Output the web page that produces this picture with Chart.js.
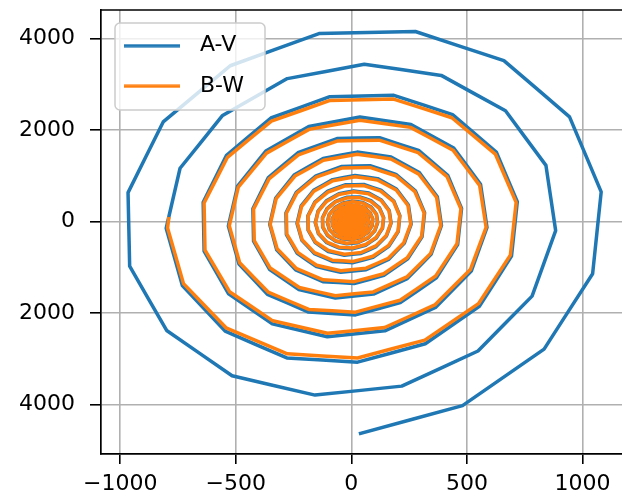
<!DOCTYPE html>
<html>
<head>
<meta charset="utf-8">
<script src="https://cdn.jsdelivr.net/npm/chart.js@4.4.1/dist/chart.umd.min.js"></script>
<style>
html,body{margin:0;padding:0;background:#ffffff;overflow:hidden;}
#wrap{width:640px;height:499px;}
</style>
</head>
<body>
<div id="wrap"><canvas id="c" width="640" height="499"></canvas></div>
<script>
// ---------------- data ----------------
const seriesNames = ['A-V', 'B-W'];
const xTickValues = [-1000, -500, 0, 500, 1000];
const xTickLabels = ['\u22121000', '\u2212500', '0', '500', '1000'];
const yTickValues = [4000, 2000, 0, -2000, -4000];
const yTickLabels = ['4000', '2000', '0', '2000', '4000'];

const avX = [
  40, 481, 834, 1044, 1081, 944, 660, 277, -140, -524, -814, -966, -959, -799, -516, -157, 218, 548, 782, 884, 842, 667, 389, 56, -277, -557, -741, -801, -731, -546, -279,
  27, 320, 554, 693, 718, 627, 438, 184, -93, -348, -540, -641, -637, -531, -342, -104, 145, 364, 519, 587, 559, 443, 258, 37, -184, -370, -492, -532, -486, -363, -185,
  18, 212, 368, 460, 477, 417, 291, 122, -62, -231, -359, -426, -423, -353, -227, -69, 96, 242, 345, 390, 372, 294, 172, 25, -122, -246, -327, -353, -323, -241, -123,
  12, 141, 244, 306, 317, 277, 193, 81, -41, -153, -238, -283, -281, -234, -151, -46, 64, 161, 229, 259, 247, 195, 114, 16, -81, -163, -217, -235, -214, -160, -82,
  8, 94, 162, 203, 210, 184, 128, 54, -27, -102, -158, -188, -187, -156, -100, -30, 42, 107, 152, 172, 164, 130, 76, 11, -54, -108, -144, -156, -142, -106, -54,
  5, 62, 108, 135, 140, 122, 85, 36, -18, -68, -105, -125, -124, -103, -67, -20, 28, 71, 101, 114, 109, 86, 50, 7, -36, -72, -96, -104, -95, -71, -36,
  3, 41, 72, 90, 93, 81, 57, 24, -12, -45, -70, -83, -82, -69, -44, -13, 19, 47, 67, 76, 72, 57, 33, 5, -24, -48, -64, -69, -63, -47, -24,
  2, 48, 62, 38, -8, -46, -55, -29, 12, 45, 48, 22, -16, -42, -42, -16,
  2, 32, 41, 25, -5, -31, -36, -20, 8, 30, 32, 15, -10, -28, -28, -11,
  1, 21, 27, 17, -4, -20, -24, -13, 5, 20, 21, 10, -7, -19, -18, -7,
  1, 14, 18, 11, -2, -14, -16, -9, 4, 13, 14, 6, -5, -12, -12, -5,
  0, 9, 12, 7, -2, -9, -11, -6, 2, 9, 9, 4, -3, -8, -8, -3
];
const avY = [
  -4630, -4025, -2791, -1142, 647, 2286, 3515, 4150, 4104, 3402, 2174, 629, -976, -2383, -3372, -3795, -3599, -2832, -1632, -201, 1224, 2417, 3191, 3434, 3121, 2316, 1162, -149, -1401, -2397, -2983,
  -3075, -2673, -1853, -759, 430, 1518, 2335, 2756, 2726, 2260, 1444, 418, -648, -1583, -2239, -2520, -2390, -1881, -1084, -133, 813, 1605, 2119, 2281, 2073, 1538, 771, -99, -931, -1592, -1981,
  -2043, -1775, -1231, -504, 285, 1008, 1551, 1831, 1810, 1501, 959, 277, -431, -1051, -1487, -1674, -1588, -1249, -720, -89, 540, 1066, 1408, 1515, 1377, 1022, 512, -66, -618, -1057, -1316,
  -1357, -1179, -818, -335, 190, 670, 1030, 1216, 1202, 997, 637, 184, -286, -698, -988, -1112, -1054, -830, -478, -59, 359, 708, 935, 1006, 914, 679, 340, -44, -411, -702, -874,
  -901, -783, -543, -222, 126, 445, 684, 808, 799, 662, 423, 122, -190, -464, -656, -739, -700, -551, -318, -39, 238, 470, 621, 668, 607, 451, 226, -29, -273, -466, -580,
  -598, -520, -361, -148, 84, 295, 454, 536, 530, 440, 281, 81, -126, -308, -436, -490, -465, -366, -211, -26, 158, 312, 412, 444, 403, 299, 150, -19, -181, -310, -386,
  -398, -346, -240, -98, 56, 196, 302, 356, 352, 292, 187, 54, -84, -205, -289, -326, -309, -243, -140, -17, 105, 208, 274, 295, 268, 199, 100, -13, -120, -206, -256,
  -264, -159, 37, 200, 234, 124, -56, -192, -205, -93, 70, 182, 178, 66, -80, -170,
  -175, -106, 24, 133, 155, 82, -37, -128, -136, -62, 46, 121, 118, 44, -53, -113,
  -116, -70, 16, 88, 103, 55, -25, -85, -91, -41, 31, 80, 79, 29, -35, -75,
  -77, -47, 11, 59, 69, 36, -16, -56, -60, -27, 20, 53, 52, 19, -23, -50,
  -51, -31, 7, 39, 46, 24, -11, -37, -40, -18, 14, 35, 35, 13, -16, -33
];

const bwX = [
  -790, -795, -726, -542, -277,
  27, 318, 550, 688, 713, 623, 435, 183, -92, -346, -536, -637, -633, -527, -340, -103, 144, 361, 515, 583, 555, 440, 256, 37, -183, -367, -489, -528, -483, -360, -184,
  18, 211, 365, 457, 474, 414, 289, 121, -62, -229, -356, -423, -420, -351, -225, -69, 95, 240, 343, 387, 369, 292, 171, 25, -121, -244, -325, -351, -321, -239, -122,
  12, 140, 242, 304, 315, 275, 192, 80, -41, -152, -236, -281, -279, -232, -150, -46, 64, 160, 227, 257, 245, 194, 113, 16, -80, -162, -215, -233, -213, -159, -81,
  8, 93, 161, 202, 209, 183, 127, 54, -27, -101, -157, -187, -186, -155, -99, -30, 42, 106, 151, 171, 163, 129, 75, 11, -54, -107, -143, -155, -141, -105, -54,
  5, 62, 107, 134, 139, 121, 84, 36, -18, -68, -104, -124, -123, -102, -67, -20, 28, 71, 100, 113, 108, 85, 50, 7, -36, -71, -95, -103, -94, -71, -36,
  3, 41, 71, 89, 92, 80, 56, 24, -12, -45, -69, -82, -81, -68, -44, -13, 19, 47, 66, 75, 71, 56, 33, 5, -24, -48, -63, -68, -62, -47, -24,
  2, 48, 61, 38, -8, -46, -54, -29, 12, 45, 48, 22, -16, -42, -42, -16,
  2, 32, 41, 25, -5, -31, -36, -20, 8, 30, 32, 15, -10, -28, -28, -11,
  1, 21, 27, 17, -4, -20, -24, -13, 5, 20, 21, 10, -7, -19, -18, -7,
  1, 14, 18, 11, -2, -14, -16, -9, 4, 13, 14, 6, -5, -12, -12, -5,
  0, 9, 12, 7, -2, -9, -11, -6, 2, 9, 9, 4, -3, -8, -8, -3
];
const bwY = [
  60, -145, -1359, -2325, -2893,
  -2983, -2593, -1797, -736, 417, 1472, 2265, 2673, 2644, 2192, 1401, 405, -629, -1536, -2172, -2444, -2318, -1825, -1051, -129, 789, 1557, 2055, 2213, 2011, 1492, 748, -96, -903, -1544, -1922,
  -1982, -1722, -1194, -489, 276, 978, 1504, 1776, 1756, 1456, 930, 269, -418, -1019, -1442, -1624, -1540, -1212, -698, -86, 524, 1034, 1366, 1470, 1336, 991, 497, -64, -599, -1025, -1277,
  -1316, -1144, -793, -325, 184, 650, 999, 1180, 1166, 967, 618, 178, -277, -677, -958, -1079, -1022, -805, -464, -57, 348, 687, 907, 976, 887, 659, 330, -43, -399, -681, -848,
  -874, -760, -527, -215, 122, 432, 663, 784, 775, 642, 410, 118, -184, -450, -636, -717, -679, -534, -308, -38, 231, 456, 602, 648, 589, 437, 219, -28, -265, -452, -563,
  -580, -504, -350, -144, 81, 286, 440, 520, 514, 427, 273, 79, -122, -299, -423, -475, -451, -355, -205, -25, 153, 303, 400, 431, 391, 290, 146, -18, -176, -301, -374,
  -388, -337, -234, -96, 55, 191, 294, 347, 343, 285, 182, 53, -82, -200, -282, -318, -301, -237, -137, -17, 102, 203, 267, 288, 261, 194, 98, -13, -117, -201, -250,
  -257, -155, 36, 195, 228, 121, -55, -187, -200, -91, 68, 177, 174, 64, -78, -166,
  -171, -103, 23, 130, 151, 80, -36, -125, -133, -60, 45, 118, 115, 43, -52, -110,
  -113, -68, 16, 86, 100, 54, -24, -83, -89, -40, 30, 78, 77, 28, -34, -73,
  -75, -46, 11, 58, 67, 35, -16, -55, -59, -26, 20, 52, 51, 19, -22, -49,
  -50, -30, 7, 38, 45, 23, -11, -36, -39, -18, 14, 34, 34, 13, -16, -32
];

// ---------------- styling / layout ----------------
const COLORS = ['#1f77b4', '#ff7f0e'];
const FONT = 'DejaVu Sans';
const FONT_SIZE = 22;
const X_RANGE = [-1083, 1184];
const Y_RANGE = [-5082, 4620];
const legendFrame = {x: 115, y: 23, w: 150, h: 87, r: 5};
const legendFirstItem = {x: 124, y: 34.7};

Chart.defaults.font.family = FONT;

function toPoints(xs, ys) {
  return xs.map((x, i) => ({x: x, y: ys[i]}));
}

function makeHandle(color) {
  const c = document.createElement('canvas');
  c.width = 65; c.height = 4;
  const g = c.getContext('2d');
  g.fillStyle = color;
  g.fillRect(0, 0.4, 56, 3.2);
  return c;
}
const legendHandles = COLORS.map(makeHandle);

const overlayPlugin = {
  id: 'overlay',
  beforeLayout(chart) {
    const lg = chart.legend;
    if (!lg) return;
    lg._layers = () => [{
      z: 10,
      draw: (area) => {
        const ctx = chart.ctx;
        ctx.save();
        ctx.beginPath();
        if (ctx.roundRect) {
          ctx.roundRect(legendFrame.x, legendFrame.y, legendFrame.w, legendFrame.h, legendFrame.r);
        } else {
          ctx.rect(legendFrame.x, legendFrame.y, legendFrame.w, legendFrame.h);
        }
        ctx.fillStyle = 'rgba(255,255,255,0.8)';
        ctx.fill();
        ctx.lineWidth = 1.5;
        ctx.strokeStyle = '#cccccc';
        ctx.stroke();
        const hb = lg.legendHitBoxes && lg.legendHitBoxes[0];
        const dx = hb ? legendFirstItem.x - hb.left : 0;
        const dy = hb ? legendFirstItem.y - hb.top : 0;
        ctx.translate(dx, dy);
        lg.draw(area);
        ctx.restore();
      }
    }];
  },
  afterDatasetsDraw(chart) {
    const {ctx, chartArea: a} = chart;
    ctx.save();
    ctx.strokeStyle = '#000000';
    ctx.lineWidth = 1.7;
    ctx.beginPath();
    ctx.moveTo(a.left - 0.85, a.top);
    ctx.lineTo(a.right + 2, a.top);
    ctx.stroke();
    ctx.restore();
  }
};

const datasets = [
  {
    label: seriesNames[0],
    data: toPoints(avX, avY),
    borderColor: COLORS[0],
    backgroundColor: COLORS[0],
    order: 1
  },
  {
    label: seriesNames[1],
    data: toPoints(bwX, bwY),
    borderColor: COLORS[1],
    backgroundColor: COLORS[1],
    order: 0
  }
].map(d => Object.assign(d, {
  showLine: true,
  fill: false,
  borderWidth: 3.5,
  pointRadius: 0,
  pointHoverRadius: 0,
  tension: 0.0001,
  borderJoinStyle: 'round',
  borderCapStyle: 'square'
}));

new Chart(document.getElementById('c'), {
  type: 'scatter',
  data: {datasets: datasets},
  plugins: [overlayPlugin],
  options: {
    responsive: false,
    animation: false,
    devicePixelRatio: 1,
    events: [],
    layout: {padding: {left: 0, top: 10, right: 15, bottom: 0}},
    plugins: {
      tooltip: {enabled: false},
      title: {display: false},
      legend: {
        display: true,
        position: 'chartArea',
        align: 'start',
        fullSize: false,
        labels: {
          usePointStyle: true,
          pointStyleWidth: 65,
          padding: 18.5,
          color: '#000000',
          font: {family: FONT, size: FONT_SIZE},
          sort: (a, b) => a.datasetIndex - b.datasetIndex,
          generateLabels(chart) {
            const items = Chart.defaults.plugins.legend.labels.generateLabels(chart);
            items.forEach(it => { it.pointStyle = legendHandles[it.datasetIndex]; it.lineWidth = 0; });
            return items;
          }
        }
      }
    },
    scales: {
      x: {
        type: 'linear',
        position: 'bottom',
        min: X_RANGE[0],
        max: X_RANGE[1],
        afterBuildTicks: s => { s.ticks = xTickValues.map(v => ({value: v})); },
        afterFit: s => { s.height = 45; s.paddingLeft = 0; s.paddingRight = 0; },
        grid: {color: '#b0b0b0', lineWidth: 1.6, tickColor: '#000000', tickWidth: 1.6, tickLength: 10, drawTicks: true},
        border: {display: true, color: '#000000', width: 1.7},
        ticks: {
          autoSkip: false, maxRotation: 0, minRotation: 0, padding: 7,
          color: '#000000', font: {family: FONT, size: FONT_SIZE},
          callback: (v) => { const i = xTickValues.indexOf(v); return i >= 0 ? xTickLabels[i] : ''; }
        }
      },
      y: {
        type: 'linear',
        position: 'left',
        min: Y_RANGE[0],
        max: Y_RANGE[1],
        afterBuildTicks: s => { s.ticks = yTickValues.slice().reverse().map(v => ({value: v})); },
        afterFit: s => { s.width = 101; s.paddingTop = 0; s.paddingBottom = 0; },
        grid: {color: '#b0b0b0', lineWidth: 1.6, tickColor: '#000000', tickWidth: 1.6, tickLength: 11, drawTicks: true},
        border: {display: true, color: '#000000', width: 1.7},
        ticks: {
          autoSkip: false, padding: 15,
          color: '#000000', font: {family: FONT, size: FONT_SIZE},
          callback: (v) => { const i = yTickValues.indexOf(v); return i >= 0 ? yTickLabels[i] : ''; }
        }
      }
    }
  }
});
</script>
</body>
</html>
